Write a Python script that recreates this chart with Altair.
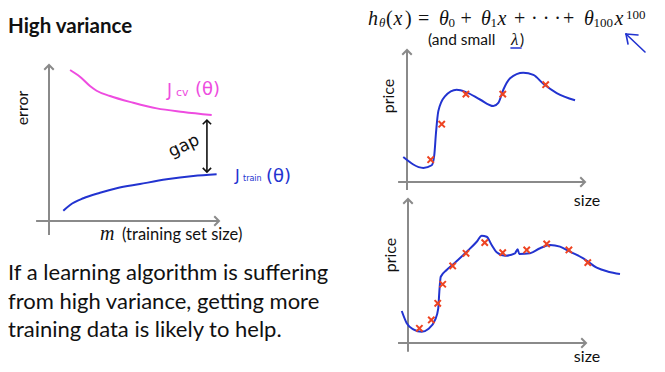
import altair as alt
import pandas as pd

# ---------------- data ----------------
# Left panel: learning curves (m = training set size, error), arbitrary units 0..10
m_cv = [1.24, 1.82, 2.41, 2.80, 3.59, 4.96, 6.34, 7.90, 9.57]
err_cv = [9.68, 9.25, 8.65, 8.35, 8.01, 7.58, 7.22, 6.99, 6.79]
m_train = [0.84, 1.24, 2.02, 3.00, 3.98, 5.35, 6.92, 8.49, 9.86]
err_train = [0.66, 1.03, 1.46, 1.81, 2.10, 2.37, 2.67, 2.88, 2.99]
gap_m = [9.29]
gap_lo = [3.14]
gap_hi = [6.47]

# Top right panel: small training set, overfit curve
fit1_size = [-0.21, 0.92, 1.39, 1.53, 1.63, 1.76, 2.13, 2.79, 3.35, 4.10, 4.85, 5.13,
             5.41, 5.79, 6.53, 7.10, 7.66, 8.41, 9.44]
fit1_price = [1.89, 1.07, 1.27, 2.01, 3.75, 5.37, 6.49, 6.99, 6.79, 6.25, 5.75, 5.99,
              6.99, 7.86, 8.28, 8.11, 7.44, 6.74, 6.19]
pts1_size = [1.33, 1.95, 3.31, 5.38, 7.79]
pts1_price = [1.69, 4.38, 6.66, 6.66, 7.37]

# Bottom right panel: larger training set
fit2_size = [-0.35, -0.07, 0.30, 0.77, 1.14, 1.52, 1.70, 1.76, 1.84, 2.17, 2.54, 3.30,
             3.86, 4.14, 4.42, 4.70, 4.98, 5.45, 6.01, 6.16, 6.25, 6.85, 7.42, 7.98,
             8.54, 9.10, 9.85, 10.60, 11.25, 11.91]
fit2_price = [2.22, 1.37, 0.95, 0.78, 0.97, 1.60, 2.41, 3.56, 4.60, 5.07, 5.47, 6.34,
              7.03, 7.45, 7.38, 6.81, 6.30, 6.06, 6.23, 6.51, 6.18, 6.23, 6.58, 6.81,
              6.69, 6.34, 5.88, 5.23, 4.95, 4.79]
pts2_size = [0.64, 1.31, 1.67, 1.95, 2.51, 3.26, 4.31, 5.32, 6.67, 7.79, 9.04, 10.10]
pts2_price = [1.02, 1.60, 2.76, 4.08, 5.35, 6.23, 6.97, 6.27, 6.46, 6.88, 6.46, 5.58]

paragraph = ["If a learning algorithm is suffering",
             "from high variance, getting more",
             "training data is likely to help."]

# ---------------- styling ----------------
AXIS_GRAY = "#8a8a8a"
MAGENTA = "#ee4ce0"
BLUE = "#2233d0"
RED = "#ee4422"
INK = "#111111"
OFF = 8  # page margin

UP = "M-1,1L0,0L1,1"
CROSS = "M-1,-1L1,1M-1,1L1,-1"


def scales(xr, yr):
    sx = alt.Scale(domain=[0, 10], range=[xr[0] - OFF, xr[1] - OFF], nice=False, zero=False)
    sy = alt.Scale(domain=[0, 10], range=[yr[0] - OFF, yr[1] - OFF], nice=False, zero=False)
    return sx, sy


def panel(sx, sy, axes_df, heads_df, lines, points, color_ax=AXIS_GRAY):
    layers = []
    layers.append(alt.Chart(axes_df).mark_rule(color=color_ax, strokeWidth=2).encode(
        x=alt.X("x:Q", scale=sx, axis=None), x2="x2:Q",
        y=alt.Y("y:Q", scale=sy, axis=None), y2="y2:Q"))
    layers.append(alt.Chart(heads_df).mark_point(
        shape=UP, size=90, filled=False, color=color_ax, strokeWidth=2, opacity=1).encode(
        x=alt.X("x:Q", scale=sx, axis=None), y=alt.Y("y:Q", scale=sy, axis=None),
        angle=alt.Angle("a:Q", scale=None)))
    for df, col in lines:
        layers.append(alt.Chart(df).mark_line(color=col, strokeWidth=2, interpolate="monotone").encode(
            x=alt.X("x:Q", scale=sx, axis=None), y=alt.Y("y:Q", scale=sy, axis=None),
            order="i:O"))
    for df in points:
        layers.append(alt.Chart(df).mark_point(
            shape=CROSS, size=40, filled=False, color=RED, strokeWidth=2, opacity=1).encode(
            x=alt.X("x:Q", scale=sx, axis=None), y=alt.Y("y:Q", scale=sy, axis=None)))
    return alt.layer(*layers)


def series(xs, ys):
    return pd.DataFrame({"x": xs, "y": ys, "i": range(len(xs))})


ONE = alt.Data(values=[{}])


def txt(t, x, y, size, font="Lato", weight="normal", style="normal", color=INK,
        align="left", baseline="alphabetic", angle=0):
    kw = dict(text=t, fontSize=size, font=font, fontWeight=weight, fontStyle=style,
              color=color, align=align, baseline=baseline)
    if angle:
        kw["angle"] = angle
    return alt.Chart(ONE).mark_text(**kw).encode(x=alt.value(x - OFF), y=alt.value(y - OFF))


def seg(x1, y1, x2, y2, color, w=2):
    return alt.Chart(ONE).mark_rule(color=color, strokeWidth=w, strokeCap="round").encode(
        x=alt.value(x1 - OFF), y=alt.value(y1 - OFF), x2=alt.value(x2 - OFF), y2=alt.value(y2 - OFF))


# ---------------- left panel ----------------
sxL, syL = scales((49, 219), (221, 65))
axL = pd.DataFrame({"x": [0, -0.76], "x2": [0, 10.0], "y": [-0.9, 0], "y2": [10.0, 0]})
hdL = pd.DataFrame({"x": [0, 10.0], "y": [10.0, 0], "a": [0, 90]})
left = panel(sxL, syL, axL, hdL,
             [(series(m_cv, err_cv), MAGENTA), (series(m_train, err_train), BLUE)], [])
gap_df = pd.DataFrame({"x": gap_m, "lo": gap_lo, "hi": gap_hi})
gap_rule = alt.Chart(gap_df).mark_rule(color=INK, strokeWidth=1.6).encode(
    x=alt.X("x:Q", scale=sxL, axis=None), y=alt.Y("lo:Q", scale=syL, axis=None), y2="hi:Q")
gap_heads_df = pd.DataFrame({"x": gap_m * 2, "y": [gap_hi[0], gap_lo[0]], "a": [0, 180]})
gap_heads = alt.Chart(gap_heads_df).mark_point(
    shape=UP, size=70, filled=False, color=INK, strokeWidth=1.6, opacity=1).encode(
    x=alt.X("x:Q", scale=sxL, axis=None), y=alt.Y("y:Q", scale=syL, axis=None),
    angle=alt.Angle("a:Q", scale=None))
left = alt.layer(left, gap_rule, gap_heads)

# ---------------- right panels ----------------
sxT, syT = scales((407, 585), (182, 50))
axT = pd.DataFrame({"x": [0, -0.5], "x2": [0, 10.0], "y": [-0.6, 0], "y2": [10.0, 0]})
hdT = pd.DataFrame({"x": [0, 10.0], "y": [10.0, 0], "a": [0, 90]})
top = panel(sxT, syT, axT, hdT, [(series(fit1_size, fit1_price), BLUE)],
            [series(pts1_size, pts1_price)])

sxB, syB = scales((408, 586), (343, 199))
axB = pd.DataFrame({"x": [0, -0.56], "x2": [0, 10.0], "y": [-0.6, 0], "y2": [10.0, 0]})
hdB = pd.DataFrame({"x": [0, 10.0], "y": [10.0, 0], "a": [0, 90]})
bottom = panel(sxB, syB, axB, hdB, [(series(fit2_size, fit2_price), BLUE)],
               [series(pts2_size, pts2_price)])

# ---------------- texts ----------------
texts = [
    txt("High variance", 8, 33, 20.5, weight="bold"),
    txt("error", 23, 108, 16, align="center", baseline="middle", angle=270),
    txt("m", 100, 240, 20, font="Liberation Serif", style="italic"),
    txt("(training set size)", 122, 240, 16.5),
    txt("J", 167, 96, 17, color=MAGENTA, font="DejaVu Sans"),
    txt("cv", 176, 96, 11, color=MAGENTA, font="DejaVu Sans"),
    txt("(θ)", 195, 95, 18, color=MAGENTA, font="DejaVu Sans"),
    txt("J", 235, 181, 16, color=BLUE, font="DejaVu Sans"),
    txt("train", 243, 181, 8, color=BLUE, font="DejaVu Sans"),
    txt("(θ)", 266, 182, 18, color=BLUE, font="DejaVu Sans"),
    txt("gap", 184, 146, 17, align="center", baseline="middle", angle=335, font="DejaVu Sans"),
    txt("price", 389, 96, 16, align="center", baseline="middle", angle=270),
    txt("price", 391, 255, 16, align="center", baseline="middle", angle=270),
    txt("size", 587, 206, 16, align="center"),
    txt("size", 587, 362, 16, align="center"),
    txt("(and small", 428, 45, 15.5),
    txt("λ", 511, 45, 17, font="Liberation Serif", style="italic"),
    txt(")", 520, 45, 15.5),
]
for k, line in enumerate(paragraph):
    texts.append(txt(line, 8, 280 + 28.5 * k, 22))

# formula pieces: (text, x, baseline, size, style)
SERIF = "Liberation Serif"
FB = 25  # main baseline (page px)
formula = [
    ("h", 368, FB, 20, "italic"), ("θ", 379, FB + 2, 13, "italic"), ("(", 386, FB, 20, "normal"),
    ("x", 393.5, FB, 20, "italic"), (")", 405, FB, 20, "normal"), ("=", 418, FB, 20, "normal"),
    ("θ", 439, FB, 20, "italic"), ("0", 448.5, FB + 2, 13, "normal"), ("+", 460.5, FB, 20, "normal"),
    ("θ", 481, FB, 20, "italic"), ("1", 490.5, FB + 2, 13, "normal"), ("x", 497.5, FB, 20, "italic"),
    ("+", 514, FB, 20, "normal"), ("· · ·", 531, FB, 20, "normal"), ("+", 563, FB, 20, "normal"),
    ("θ", 584, FB, 20, "italic"), ("100", 593.5, FB + 2, 13, "normal"), ("x", 614.5, FB, 20, "italic"),
    ("100", 626, FB - 6, 13, "normal"),
]
for t, x, y, s, st in formula:
    texts.append(txt(t, x, y, s, font=SERIF, style=st))

marks = [
    seg(511, 48, 521, 48, BLUE, 1.6),          # underline under lambda
    seg(645, 52, 626, 34, BLUE, 1.6),          # hand-drawn arrow shaft
    seg(626, 34, 638, 35, BLUE, 1.6),
    seg(626, 34, 628, 44, BLUE, 1.6),
]

chart = alt.layer(left, top, bottom, *texts, *marks).resolve_scale(
    x="independent", y="independent"
).properties(
    width=649, height=356, padding=0, autosize="none"
).configure_view(stroke=None)

chart.save("out.html", embed_options={"renderer": "svg", "actions": False})
